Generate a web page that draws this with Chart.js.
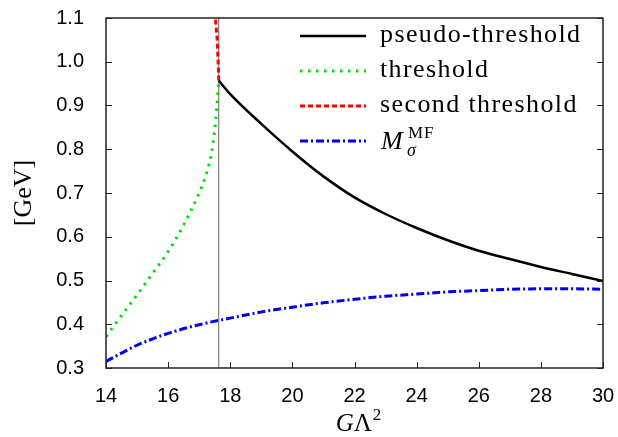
<!DOCTYPE html>
<html>
<head>
<meta charset="utf-8">
<script src="https://cdn.jsdelivr.net/npm/chart.js@4.4.1/dist/chart.umd.min.js"></script>
<style>
  body { margin: 0; background: #fff; }
  #wrap { width: 618px; height: 437px; }
</style>
</head>
<body>
<div id="wrap"><canvas id="massChart" width="618" height="437"></canvas></div>
<script>
// G Lambda^2 on x, masses in GeV on y
const xTickValues = [14, 16, 18, 20, 22, 24, 26, 28, 30];
const yTickValues = [0.3, 0.4, 0.5, 0.6, 0.7, 0.8, 0.9, 1.0, 1.1];

const pseudoX = [17.63, 18, 19, 20, 21, 22, 23, 24, 25, 26, 27, 28, 29, 30];
const pseudoY = [0.957, 0.926, 0.858, 0.795, 0.738, 0.690, 0.652, 0.620, 0.592, 0.568, 0.549, 0.531, 0.515, 0.499];

const thresholdX = [14, 14.5, 15, 15.5, 16, 16.5, 17, 17.2, 17.4, 17.5, 17.57, 17.63];
const thresholdY = [0.372, 0.42, 0.467, 0.516, 0.566, 0.627, 0.70, 0.737, 0.792, 0.844, 0.897, 0.957];

const secondX = [17.63, 17.61, 17.58, 17.52];
const secondY = [0.957, 1.0, 1.05, 1.1];

const sigmaX = [14, 15, 16, 17, 18, 19, 20, 21, 22, 23, 24, 25, 26, 27, 28, 29, 30];
const sigmaY = [0.315, 0.352, 0.379, 0.399, 0.414, 0.428, 0.439, 0.449, 0.457, 0.464, 0.469, 0.474, 0.477, 0.480, 0.481, 0.481, 0.480];

const markX = [17.63, 17.63];
const markY = [0.3, 1.1];

const labels = ["pseudo-threshold", "threshold", "second threshold", "M_sigma^MF"];

function pts(xs, ys) {
  return xs.map((x, i) => ({ x: x, y: ys[i] }));
}

const serif = '"Liberation Serif", "Times New Roman", serif';

const frame = {
  id: "frame",
  afterDraw(chart) {
    const { ctx, chartArea: a, scales: { x, y } } = chart;
    ctx.save();
    ctx.strokeStyle = "#222";
    ctx.lineWidth = 1.5;
    ctx.setLineDash([]);
    ctx.strokeRect(a.left, a.top, a.right - a.left, a.bottom - a.top);
    ctx.lineWidth = 1;
    ctx.beginPath();
    xTickValues.forEach(v => {
      const px = Math.round(x.getPixelForValue(v)) + 0.5;
      ctx.moveTo(px, a.bottom);
      ctx.lineTo(px, a.bottom - 6);
    });
    yTickValues.forEach(v => {
      const py = Math.round(y.getPixelForValue(v)) + 0.5;
      ctx.moveTo(a.left, py);
      ctx.lineTo(a.left + 6, py);
      ctx.moveTo(a.right, py);
      ctx.lineTo(a.right - 6, py);
    });
    ctx.stroke();

    // x title: G Lambda^2
    ctx.fillStyle = "#000";
    ctx.textBaseline = "alphabetic";
    ctx.textAlign = "left";
    const fG = "italic 25px " + serif, fL = "25px " + serif, fS = "17px " + serif;
    ctx.font = fG; const wG = ctx.measureText("G").width;
    ctx.font = fL; const wL = ctx.measureText("Λ").width;
    ctx.font = fS; const wS = ctx.measureText("2").width;
    let tx = (a.left + a.right) / 2 + 4 - (wG + wL + 1 + wS) / 2;
    const ty = 431;
    ctx.font = fG; ctx.fillText("G", tx, ty); tx += wG;
    ctx.font = fL; ctx.fillText("Λ", tx, ty); tx += wL + 1;
    ctx.font = fS; ctx.fillText("2", tx, ty - 11);

    // legend
    chart.data.datasets.forEach((ds, i) => {
      if (i > 3) return;
      const ly = 36 + i * 35;
      ctx.strokeStyle = ds.borderColor;
      ctx.lineWidth = ds.borderWidth;
      ctx.setLineDash(ds.borderDash || []);
      ctx.beginPath();
      ctx.moveTo(300, ly);
      ctx.lineTo(366, ly);
      ctx.stroke();
      ctx.setLineDash([]);
      if (i < 3) {
        ctx.font = "26px " + serif;
        ctx.letterSpacing = "1.4px";
        ctx.fillText(ds.label, 380, ly + 6);
        ctx.letterSpacing = "0px";
      } else {
        ctx.font = "italic 26px " + serif;
        ctx.fillText("M", 381, ly + 8);
        ctx.font = "italic 18px " + serif;
        ctx.fillText("σ", 407, ly + 15);
        ctx.font = "17px " + serif;
        ctx.letterSpacing = "1px";
        ctx.fillText("MF", 408, ly - 3);
        ctx.letterSpacing = "0px";
      }
    });
    ctx.restore();
  }
};

const ctx = document.getElementById("massChart").getContext("2d");

new Chart(ctx, {
  type: "line",
  data: {
    datasets: [
      {
        label: labels[0],
        data: pts(pseudoX, pseudoY),
        borderColor: "#000000",
        borderWidth: 2.5,
        cubicInterpolationMode: "monotone"
      },
      {
        label: labels[1],
        data: pts(thresholdX, thresholdY),
        borderColor: "#00e000",
        borderWidth: 3,
        borderDash: [2.5, 5.5],
        cubicInterpolationMode: "monotone"
      },
      {
        label: labels[2],
        data: pts(secondX, secondY),
        borderColor: "#ff0000",
        borderWidth: 3,
        borderDash: [5, 3]
      },
      {
        label: labels[3],
        data: pts(sigmaX, sigmaY),
        borderColor: "#0000ee",
        borderWidth: 3,
        borderDash: [8, 3, 2, 3],
        cubicInterpolationMode: "monotone"
      },
      {
        label: "mark",
        data: pts(markX, markY),
        borderColor: "#666666",
        borderWidth: 1
      }
    ]
  },
  options: {
    responsive: false,
    animation: false,
    layout: { padding: { top: 18, right: 15, left: 0, bottom: 0 } },
    elements: { point: { radius: 0 }, line: { borderCapStyle: "butt", fill: false } },
    plugins: { legend: { display: false }, tooltip: { enabled: false } },
    scales: {
      x: {
        type: "linear",
        min: 14,
        max: 30,
        grid: { display: false },
        border: { display: false },
        afterBuildTicks: s => { s.ticks = xTickValues.map(v => ({ value: v })); },
        afterFit: s => { s.height = 69; s.paddingLeft = 0; s.paddingRight = 0; },
        ticks: {
          padding: 8,
          color: "#000",
          maxRotation: 0,
          font: { family: '"Liberation Sans", Arial, sans-serif', size: 20 },
          callback: v => String(v)
        }
      },
      y: {
        type: "linear",
        min: 0.3,
        max: 1.1,
        grid: { display: false },
        border: { display: false },
        afterBuildTicks: s => { s.ticks = yTickValues.map(v => ({ value: v })); },
        afterFit: s => { s.width = 106; s.paddingTop = 0; s.paddingBottom = 0; },
        ticks: {
          padding: 14,
          color: "#000",
          font: { family: '"Liberation Sans", Arial, sans-serif', size: 20 },
          callback: v => v.toFixed(1)
        },
        title: {
          display: true,
          text: "[GeV]",
          color: "#000",
          padding: { top: 9, bottom: 0 },
          font: { family: serif, size: 26 }
        }
      }
    }
  },
  plugins: [frame]
});
</script>
</body>
</html>
